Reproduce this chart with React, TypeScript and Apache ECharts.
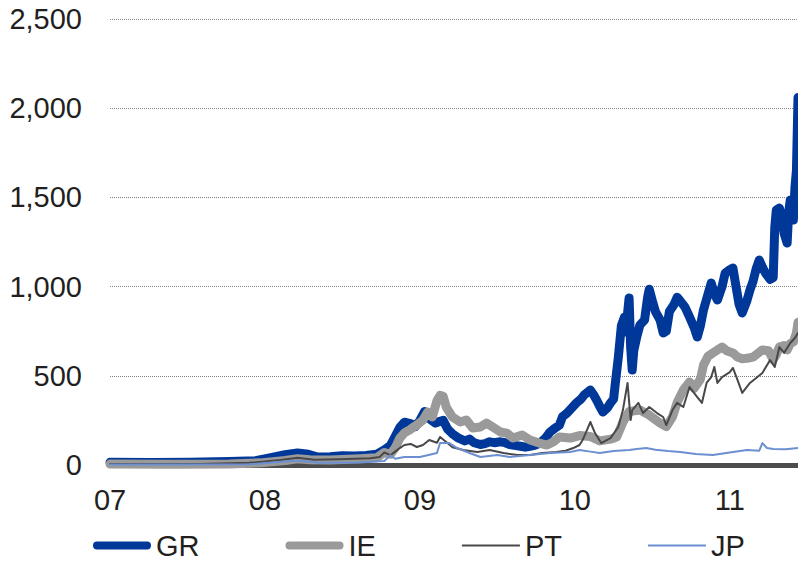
import React, { useEffect, useRef } from "react";
import * as echarts from "echarts";

// [decimal year, spread in bp]
const GR: [number, number][] = [
  [2007.0, 15], [2007.26, 14], [2007.52, 16], [2007.77, 20], [2007.94, 24], [2008.03, 40],
  [2008.13, 58], [2008.21, 67], [2008.28, 60], [2008.34, 45], [2008.42, 46], [2008.5, 52],
  [2008.58, 50], [2008.65, 54], [2008.72, 60], [2008.77, 85], [2008.81, 110], [2008.84, 160],
  [2008.87, 210], [2008.9, 240], [2008.94, 232], [2008.97, 215], [2009.0, 250], [2009.03, 300],
  [2009.06, 260], [2009.1, 235], [2009.13, 245], [2009.15, 250], [2009.18, 200], [2009.21, 175],
  [2009.25, 150], [2009.29, 135], [2009.32, 145], [2009.35, 125], [2009.39, 115], [2009.42, 120],
  [2009.45, 130], [2009.48, 125], [2009.52, 130], [2009.55, 125], [2009.58, 115], [2009.61, 110],
  [2009.65, 105], [2009.68, 100], [2009.71, 105], [2009.74, 110], [2009.77, 120], [2009.81, 150],
  [2009.84, 185], [2009.87, 205], [2009.9, 224], [2009.92, 270], [2009.95, 291], [2009.98, 320],
  [2010.01, 348], [2010.04, 370], [2010.06, 392], [2010.1, 420], [2010.12, 395], [2010.14, 364],
  [2010.16, 330], [2010.18, 297], [2010.21, 320], [2010.23, 348], [2010.25, 370], [2010.26, 450],
  [2010.28, 600], [2010.3, 780], [2010.32, 830], [2010.33, 745], [2010.34, 850], [2010.35, 936],
  [2010.36, 661], [2010.37, 532], [2010.38, 640], [2010.4, 720], [2010.42, 785], [2010.45, 813],
  [2010.47, 942], [2010.48, 985], [2010.5, 920], [2010.52, 860], [2010.55, 813], [2010.57, 740],
  [2010.59, 750], [2010.61, 860], [2010.64, 900], [2010.66, 940], [2010.68, 920], [2010.71, 886],
  [2010.74, 830], [2010.77, 770], [2010.79, 717], [2010.81, 780], [2010.83, 869], [2010.86, 960],
  [2010.88, 1020], [2010.9, 960], [2010.92, 925], [2010.95, 1000], [2010.97, 1076], [2011.0, 1095],
  [2011.02, 1104], [2011.04, 1000], [2011.06, 900], [2011.08, 852], [2011.11, 920], [2011.13, 981],
  [2011.15, 1030], [2011.17, 1100], [2011.19, 1149], [2011.21, 1110], [2011.23, 1076], [2011.26, 1040],
  [2011.28, 1050], [2011.29, 1330], [2011.3, 1429], [2011.32, 1440], [2011.34, 1373], [2011.35, 1300],
  [2011.37, 1244], [2011.38, 1420], [2011.39, 1485], [2011.41, 1373], [2011.42, 1550], [2011.43, 1653],
  [2011.44, 2060],
];

const IE: [number, number][] = [
  [2007.0, 5], [2007.39, 4], [2007.77, 6], [2007.97, 12], [2008.13, 25], [2008.21, 35],
  [2008.29, 30], [2008.42, 28], [2008.61, 35], [2008.72, 40], [2008.77, 70], [2008.81, 60],
  [2008.84, 95], [2008.87, 150], [2008.9, 180], [2008.94, 200], [2008.95, 207], [2008.98, 224],
  [2009.02, 252], [2009.05, 297], [2009.06, 285], [2009.08, 269], [2009.11, 360], [2009.13, 390],
  [2009.15, 385], [2009.17, 325], [2009.21, 269], [2009.26, 241], [2009.3, 252], [2009.34, 207],
  [2009.39, 213], [2009.43, 235], [2009.47, 213], [2009.52, 185], [2009.56, 179], [2009.6, 151],
  [2009.66, 168], [2009.71, 140], [2009.77, 123], [2009.82, 112], [2009.86, 129], [2009.9, 157],
  [2009.97, 151], [2010.03, 165], [2010.1, 160], [2010.16, 135], [2010.23, 145], [2010.27, 157],
  [2010.31, 240], [2010.35, 300], [2010.42, 308], [2010.48, 280], [2010.55, 235], [2010.59, 215],
  [2010.63, 270], [2010.66, 350], [2010.7, 420], [2010.74, 465], [2010.77, 430], [2010.81, 480],
  [2010.83, 560], [2010.86, 610], [2010.89, 628], [2010.92, 645], [2010.95, 661], [2010.98, 640],
  [2011.02, 628], [2011.05, 605], [2011.08, 595], [2011.12, 600], [2011.15, 605], [2011.18, 625],
  [2011.21, 645], [2011.25, 640], [2011.28, 590], [2011.3, 620], [2011.32, 661], [2011.35, 670],
  [2011.37, 645], [2011.39, 680], [2011.41, 690], [2011.43, 740], [2011.44, 800],
];

const PT: [number, number][] = [
  [2007.0, 5], [2007.58, 6], [2007.9, 12], [2008.1, 28], [2008.21, 40], [2008.32, 30],
  [2008.48, 32], [2008.68, 38], [2008.74, 45], [2008.77, 70], [2008.81, 55], [2008.84, 75],
  [2008.87, 95], [2008.9, 112], [2008.94, 118], [2008.98, 101], [2009.02, 112], [2009.06, 140],
  [2009.11, 125], [2009.13, 157], [2009.17, 129], [2009.21, 100], [2009.28, 84], [2009.37, 73],
  [2009.45, 84], [2009.54, 67], [2009.63, 56], [2009.71, 56], [2009.79, 67], [2009.88, 73],
  [2009.94, 80], [2009.99, 95], [2010.03, 112], [2010.05, 140], [2010.08, 200], [2010.1, 241],
  [2010.13, 179], [2010.17, 123], [2010.23, 151], [2010.28, 213], [2010.31, 308], [2010.34, 460],
  [2010.36, 252], [2010.37, 308], [2010.41, 348], [2010.44, 291], [2010.48, 325], [2010.53, 291],
  [2010.57, 269], [2010.59, 224], [2010.63, 308], [2010.66, 348], [2010.7, 325], [2010.74, 437],
  [2010.79, 381], [2010.82, 348], [2010.85, 460], [2010.88, 493], [2010.9, 549], [2010.92, 460],
  [2010.95, 493], [2011.0, 521], [2011.02, 544], [2011.05, 476], [2011.08, 404], [2011.13, 460],
  [2011.17, 488], [2011.21, 516], [2011.26, 588], [2011.29, 549], [2011.32, 661], [2011.35, 628],
  [2011.39, 684], [2011.42, 712], [2011.44, 740],
];

const JP: [number, number][] = [
  [2007.0, 3], [2007.9, 4], [2008.21, 25], [2008.35, 12], [2008.61, 14], [2008.77, 22],
  [2008.81, 55], [2008.84, 35], [2008.9, 45], [2009.0, 45], [2009.11, 67], [2009.13, 123],
  [2009.19, 123], [2009.24, 95], [2009.32, 67], [2009.39, 45], [2009.5, 56], [2009.58, 45],
  [2009.71, 56], [2009.84, 67], [2009.97, 73], [2010.03, 84], [2010.1, 75], [2010.16, 67],
  [2010.25, 78], [2010.35, 84], [2010.4, 90], [2010.46, 95], [2010.52, 85], [2010.6, 78],
  [2010.68, 73], [2010.78, 62], [2010.89, 56], [2011.0, 70], [2011.11, 84], [2011.19, 80],
  [2011.21, 123], [2011.24, 95], [2011.28, 90], [2011.36, 88], [2011.44, 95],
];

const SERIES_NAMES = ["GR", "IE", "PT", "JP"];
const Y_TICKS = [0, 500, 1000, 1500, 2000, 2500];
const X_START = 2007;
const X_END = 2011.44;

const FONT = "'Liberation Sans', Arial, Helvetica, sans-serif";
const TEXT = "#231f20";
const THICK_ICON = "path://M4 0H54A4 4 0 0 1 54 8H4A4 4 0 0 1 4 0Z";
const THIN_ICON = "path://M0 0H58V2H0Z";

export default function App() {
  const ref = useRef<HTMLDivElement>(null);
  useEffect(() => {
    document.body.style.margin = "0";
    if (!ref.current) return;
    const chart = echarts.init(ref.current, null, { renderer: "svg" });
    const styles = [
      { color: "#00389a", width: 9, icon: THICK_ICON },
      { color: "#9a9a9a", width: 9, icon: THICK_ICON },
      { color: "#4a4747", width: 2, icon: THIN_ICON },
      { color: "#6b8fd0", width: 2, icon: THIN_ICON },
    ];
    const datas = [GR, IE, PT, JP];
    chart.setOption({
      animation: false,
      textStyle: { fontFamily: FONT },
      grid: { left: 110, right: 0, top: 19, bottom: 96, containLabel: false },
      legend: {
        left: 93,
        top: 531,
        itemWidth: 58,
        itemHeight: 8,
        itemGap: 86,
        padding: 0,
        data: SERIES_NAMES.map((name, i) => ({
          name,
          icon: styles[i].icon,
          itemStyle: { color: styles[i].color, borderWidth: 0 },
        })),
        textStyle: { fontSize: 29, color: TEXT, fontFamily: FONT },
      },
      xAxis: {
        type: "value",
        min: X_START,
        max: X_END,
        interval: 1,
        axisLine: { show: true, onZero: false, lineStyle: { color: "#4d4d4d", width: 5 } },
        axisTick: { show: false },
        splitLine: { show: false },
        axisLabel: {
          fontSize: 29,
          color: TEXT,
          fontFamily: FONT,
          margin: 20,
          showMaxLabel: false,
          formatter: (v: number) => String(Math.round(v) % 100).padStart(2, "0"),
        },
      },
      yAxis: {
        type: "value",
        min: Y_TICKS[0],
        max: Y_TICKS[Y_TICKS.length - 1],
        interval: 500,
        axisLine: { show: false },
        axisTick: { show: false },
        splitLine: { show: true, lineStyle: { type: "dotted", color: "#7f7f7f", width: 1 } },
        axisLabel: {
          fontSize: 29,
          color: TEXT,
          fontFamily: FONT,
          margin: 28,
          formatter: (v: number) => v.toLocaleString("en-US"),
        },
      },
      series: SERIES_NAMES.map((name, i) => ({
        name,
        type: "line",
        data: datas[i],
        showSymbol: false,
        symbol: "none",
        clip: true,
        lineStyle: { color: styles[i].color, width: styles[i].width, cap: "round", join: "round" },
        itemStyle: { color: styles[i].color },
        z: 2 + i,
      })),
    });
    return () => chart.dispose();
  }, []);
  return <div ref={ref} style={{ width: 798, height: 561 }} />;
}
